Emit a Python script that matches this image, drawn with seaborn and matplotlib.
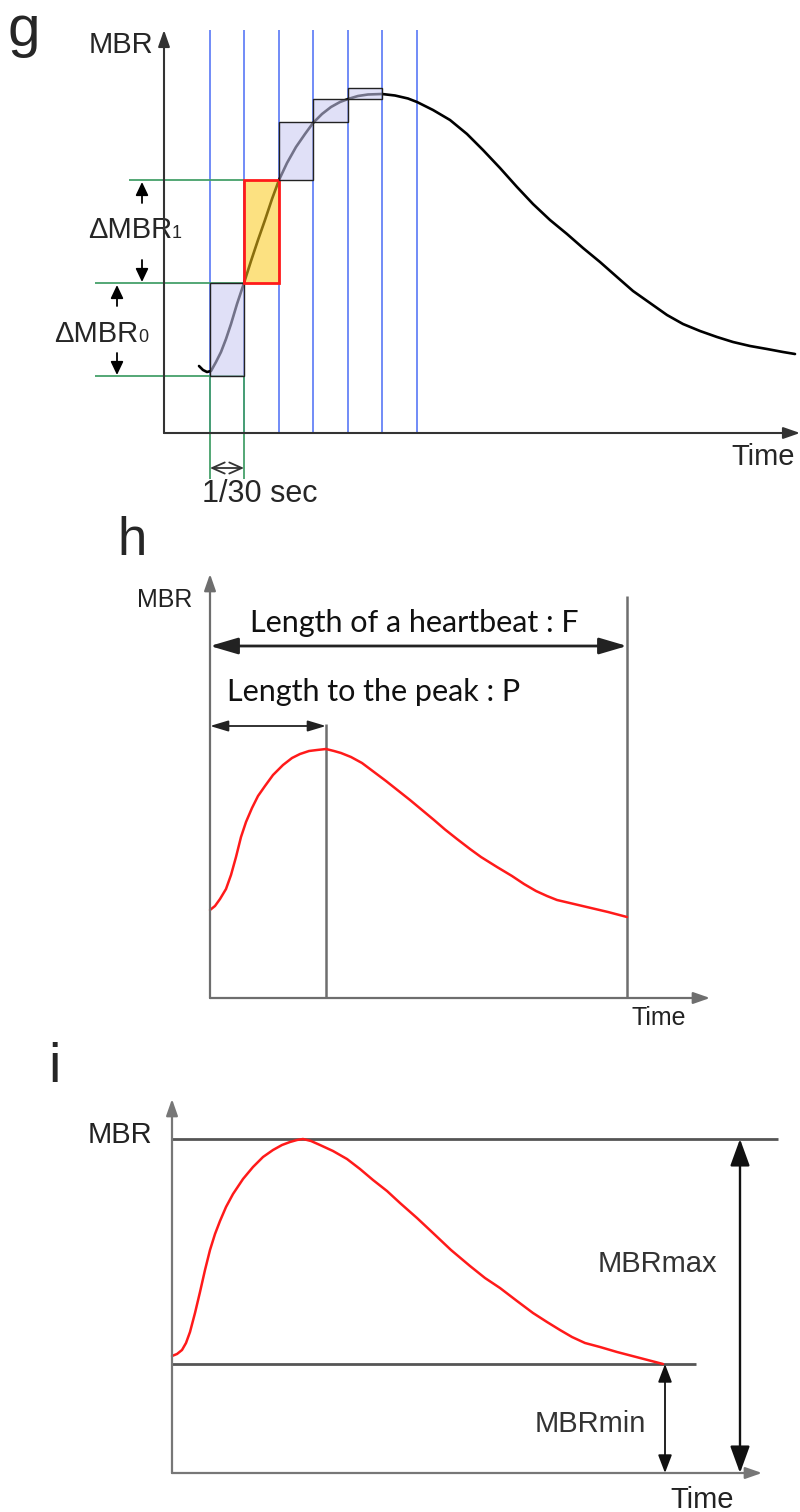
import matplotlib
matplotlib.use("Agg")
import matplotlib.pyplot as plt
from matplotlib.patches import ArrowStyle
import seaborn as sns

# Panel g: MBR waveform sampled every 1/30 sec (canvas pixel units, y grows downward)
g_time = [199, 203, 207, 211, 216, 221, 226, 231, 237, 244, 251, 258, 265, 272, 279,
          287, 296, 305, 313, 322, 331, 340, 348, 358, 368, 382, 395, 408, 417, 433,
          450, 467, 483, 500, 517, 533, 550, 567, 583, 600, 617, 633, 650, 667, 683,
          700, 717, 733, 750, 767, 783, 795]
g_mbr = [366, 370, 372, 371, 362, 352, 339, 324, 304, 283, 261, 240, 220, 199, 180,
         163, 147, 134, 123, 114, 107, 102, 99, 96, 94.5, 94, 95.5, 98.5, 102, 110,
         120, 134, 150, 168, 187, 204, 220, 234, 248, 262, 277, 291, 303, 315, 324,
         331, 337, 342, 346, 349, 352, 354]
g_frames = [210, 244, 279, 313, 348, 382, 417]
g_step_low = [376, 283, 180, 122, 99]
g_step_high = [283, 180, 122, 99, 88]
g_delta_levels = [180, 283, 376]
g_delta_left = [129, 95, 95]

# Panel h: one heartbeat, peak marker
h_time = [210, 215, 220, 226, 231, 236, 241, 246, 252, 258, 265, 273, 283, 292, 300,
          309, 317, 326, 334, 341, 351, 362, 374, 386, 398, 410, 422, 434, 445, 457,
          470, 481, 497, 512, 524, 536, 547, 557, 574, 591, 608, 627]
h_mbr = [910, 906, 899, 889, 875, 857, 837, 822, 808, 796, 786, 775, 765, 758, 754,
         751, 750, 749, 751, 753, 757, 763, 772, 781, 790.5, 800, 810, 820, 829.5, 839,
         849, 857, 867, 876, 884, 891, 896, 900, 904, 908, 912, 917]
h_start, h_peak, h_end = 210, 326, 627

# Panel i: MBR max / min
i_time = [172, 177, 182, 186, 190, 195, 200, 205, 210, 215, 220, 226, 233, 243, 253,
          263, 273, 282, 290, 297, 303, 311, 320, 333, 347, 360, 373, 387, 400, 417,
          433, 451, 470, 485, 500, 517, 533, 547, 560, 572, 585, 600, 617, 640, 663]
i_mbr = [1356, 1354, 1350, 1343, 1332, 1313, 1292, 1270, 1250, 1234, 1221, 1207, 1194,
         1179, 1167, 1157, 1150, 1145, 1142, 1140, 1139, 1141, 1145, 1151, 1159, 1169,
         1180, 1191, 1203, 1218, 1233, 1250, 1266, 1278, 1288, 1301, 1313, 1322, 1330,
         1337, 1343, 1347, 1352, 1358, 1364]
i_max, i_min = 1139, 1364

sns.set_style("white")
plt.rcParams['font.family'] = ['Liberation Sans', 'DejaVu Sans']

fig = plt.figure(figsize=(8, 15.12), dpi=100)
ax = fig.add_axes([0, 0, 1, 1])
ax.set_xlim(0, 800)
ax.set_ylim(1512, 0)
ax.axis('off')


def seg(x, y, color, lw, z=2):
    ax.plot(x, y, color=color, lw=lw, zorder=z, solid_capstyle='butt')


def arrow(x0, y0, x1, y1, style='-|>', color='black', lw=1.0, hl=0.9, hw=0.35, z=5):
    ax.annotate('', xy=(x1, y1), xytext=(x0, y0), zorder=z,
                arrowprops=dict(arrowstyle=ArrowStyle(style, head_length=hl, head_width=hw),
                                color=color, lw=lw, shrinkA=0, shrinkB=0, mutation_scale=10))


# ---------------- g ----------------
for fx in g_frames:
    seg([fx, fx], [30, 433], '#4a6cf5', 1.1, z=1)

sns.lineplot(x=g_time, y=g_mbr, ax=ax, color='black', lw=1.9, sort=False, zorder=2)

for lvl, left in zip(g_delta_levels, g_delta_left):
    seg([left, 244], [lvl, lvl], '#45a06a', 1.3, z=2)
for fx in g_frames[:2]:
    seg([fx, fx], [376, 479], '#45a06a', 1.3, z=2)

widths = [b - a for a, b in zip(g_frames[:-1], g_frames[1:])][:len(g_step_low)]
heights = [hi - lo for lo, hi in zip(g_step_low, g_step_high)]
faces = [(0.79, 0.79, 0.95, 0.57)] * len(widths)
edges = ['#222222'] * len(widths)
lws = [1.0] * len(widths)
faces[1] = (0.985, 0.79, 0.10, 0.55)
edges[1] = '#ff1a1a'
lws[1] = 2.0
ax.bar(g_frames[:len(widths)], heights, width=widths, bottom=g_step_low, align='edge',
       color=faces, edgecolor=edges, linewidth=lws, zorder=3)

arrow(164, 433, 164, 30, lw=1.5, color='#333333', hl=1.0, hw=0.35)
arrow(164, 433, 800, 433, lw=1.5, color='#333333', hl=1.0, hw=0.35)

arrow(142, 203, 142, 182, lw=1.3, hl=0.8, hw=0.38)
arrow(142, 260, 142, 282, lw=1.3, hl=0.8, hw=0.38)
arrow(117, 306, 117, 285, lw=1.3, hl=0.8, hw=0.38)
arrow(117, 353, 117, 375, lw=1.3, hl=0.8, hw=0.38)
arrow(210, 468, 244, 468, style='<->', color='#333333', lw=1.3, hl=0.9, hw=0.4)

ax.text(8, 46, 'g', fontsize=42, va='baseline', ha='left')
ax.text(153, 53, 'MBR', fontsize=21, va='baseline', ha='right')
ax.text(795, 465, 'Time', fontsize=21, va='baseline', ha='right')
ax.text(172, 238, 'ΔMBR', fontsize=21, va='baseline', ha='right')
ax.text(172, 238, '1', fontsize=13, va='baseline', ha='left')
ax.text(138, 342, 'ΔMBR', fontsize=21, va='baseline', ha='right')
ax.text(138, 342, '0', fontsize=13, va='baseline', ha='left')
ax.text(202, 502, '1/30 sec', fontsize=22, va='baseline', ha='left')

# ---------------- h ----------------
hgray = '#6e6e6e'
arrow(h_start, 998, h_start, 574, color=hgray, lw=1.6, hl=1.0, hw=0.35)
arrow(h_start, 998, 710, 998, color=hgray, lw=1.6, hl=1.0, hw=0.35)
seg([h_end, h_end], [596, 998], hgray, 1.8)
seg([h_peak, h_peak], [724, 998], hgray, 1.8)
sns.lineplot(x=h_time, y=h_mbr, ax=ax, color='#ff1a1a', lw=1.8, sort=False, zorder=3)
arrow(h_start, 646, h_end, 646, style='<|-|>', color='#222222', lw=2.0, hl=1.7, hw=0.5)
arrow(h_start, 726, h_peak, 726, style='<|-|>', color='#222222', lw=1.3, hl=1.1, hw=0.33)

ax.text(117, 555, 'h', fontsize=38, va='baseline', ha='left')
ax.text(192, 607, 'MBR', fontsize=18, va='baseline', ha='right', color='#222222')
ax.text(631, 1025, 'Time', fontsize=18, va='baseline', ha='left', color='#222222')
ax.text(250, 632, 'Length of a heartbeat : F', fontsize=22, va='baseline', ha='left',
        family=['Lato', 'DejaVu Sans'], color='#111111')
ax.text(227, 701, 'Length to the peak : P', fontsize=22, va='baseline', ha='left',
        family=['Lato', 'DejaVu Sans'], color='#111111')

# ---------------- i ----------------
igray = '#555555'
arrow(172, 1473, 172, 1099, color='#777777', lw=1.6, hl=1.0, hw=0.35)
arrow(172, 1473, 762, 1473, color='#777777', lw=1.6, hl=1.0, hw=0.35)
seg([172, 778], [i_max, i_max], igray, 2.0)
seg([172, 696], [i_min, i_min], igray, 2.0)
sns.lineplot(x=i_time, y=i_mbr, ax=ax, color='#ff1a1a', lw=1.8, sort=False, zorder=3)
arrow(665, i_min, 665, 1473, style='<|-|>', color='#111111', lw=1.3, hl=1.1, hw=0.42)
arrow(740, i_max, 740, 1473, style='<|-|>', color='#111111', lw=1.7, hl=1.65, hw=0.6)

ax.text(48, 1082, 'i', fontsize=40, va='baseline', ha='left')
ax.text(152, 1143, 'MBR', fontsize=21, va='baseline', ha='right', color='#222222')
ax.text(598, 1272, 'MBRmax', fontsize=21, va='baseline', ha='left', color='#333333')
ax.text(535, 1432, 'MBRmin', fontsize=21, va='baseline', ha='left', color='#333333')
ax.text(670, 1508, 'Time', fontsize=21, va='baseline', ha='left', color='#222222')

fig.savefig('out.png', dpi=100)
